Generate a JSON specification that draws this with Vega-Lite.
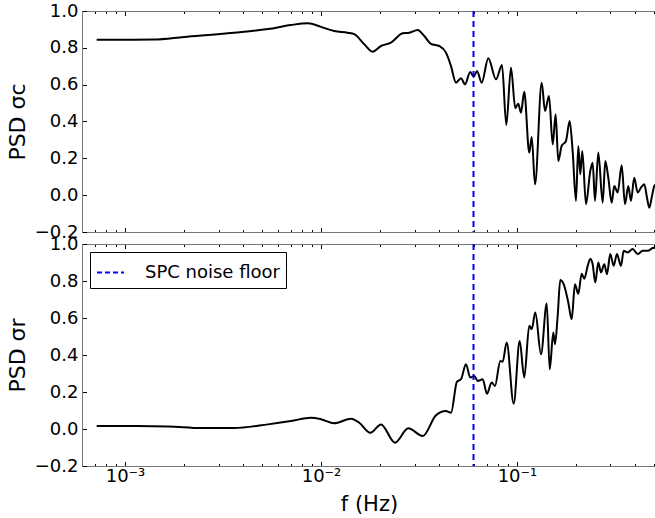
{
 "$schema": "https://vega.github.io/schema/vega-lite/v6.json",
 "padding": {"left": 6, "top": 2, "right": 0, "bottom": 2},
 "spacing": 12,
 "bounds": "flush",
 "config": {
  "view": {"stroke": null},
  "font": "DejaVu Sans",
  "axis": {"grid": false, "domainColor": "#777777", "domainWidth": 1, "tickColor": "black", "tickWidth": 1,
   "labelFont": "DejaVu Sans", "labelFontSize": 18, "labelColor": "black",
   "titleFont": "DejaVu Sans", "titleFontSize": 21, "titleFontWeight": "normal", "titleColor": "black",
   "labelOverlap": false, "labelFlush": false}
 },
 "resolve": {"scale": {"color": "independent"}, "legend": {"color": "independent"}},
 "datasets": {
  "sc": [
   {"f": 0.000717, "psd": 0.844}, {"f": 0.000954, "psd": 0.844}, {"f": 0.001406, "psd": 0.845},
   {"f": 0.002, "psd": 0.859}, {"f": 0.003598, "psd": 0.882}, {"f": 0.005365, "psd": 0.902},
   {"f": 0.00703, "psd": 0.924}, {"f": 0.008585, "psd": 0.933}, {"f": 0.01, "psd": 0.914},
   {"f": 0.01169, "psd": 0.891}, {"f": 0.01369, "psd": 0.882}, {"f": 0.01479, "psd": 0.874},
   {"f": 0.01663, "psd": 0.819}, {"f": 0.01836, "psd": 0.779}, {"f": 0.02024, "psd": 0.81},
   {"f": 0.02276, "psd": 0.828}, {"f": 0.02611, "psd": 0.879}, {"f": 0.02822, "psd": 0.882},
   {"f": 0.03114, "psd": 0.897}, {"f": 0.03365, "psd": 0.864}, {"f": 0.0364, "psd": 0.822},
   {"f": 0.04014, "psd": 0.81}, {"f": 0.04343, "psd": 0.774}, {"f": 0.04606, "psd": 0.701},
   {"f": 0.04884, "psd": 0.611}, {"f": 0.05179, "psd": 0.635}, {"f": 0.05428, "psd": 0.602},
   {"f": 0.05776, "psd": 0.669}, {"f": 0.06012, "psd": 0.642}, {"f": 0.06249, "psd": 0.674},
   {"f": 0.06605, "psd": 0.611}, {"f": 0.07138, "psd": 0.743}, {"f": 0.07812, "psd": 0.629},
   {"f": 0.08386, "psd": 0.707}, {"f": 0.0882, "psd": 0.381}, {"f": 0.0932, "psd": 0.692},
   {"f": 0.09801, "psd": 0.472}, {"f": 0.1015, "psd": 0.497}, {"f": 0.1048, "psd": 0.448},
   {"f": 0.1089, "psd": 0.562}, {"f": 0.1155, "psd": 0.231}, {"f": 0.1189, "psd": 0.316},
   {"f": 0.1236, "psd": 0.059}, {"f": 0.1337, "psd": 0.611}, {"f": 0.139, "psd": 0.457},
   {"f": 0.1457, "psd": 0.539}, {"f": 0.1521, "psd": 0.276}, {"f": 0.1575, "psd": 0.439},
   {"f": 0.1624, "psd": 0.186}, {"f": 0.169, "psd": 0.267}, {"f": 0.1778, "psd": 0.294},
   {"f": 0.1857, "psd": 0.403}, {"f": 0.1924, "psd": 0.236}, {"f": 0.2, "psd": -0.031},
   {"f": 0.2055, "psd": 0.267}, {"f": 0.2104, "psd": 0.113}, {"f": 0.2154, "psd": 0.24},
   {"f": 0.2249, "psd": -0.049}, {"f": 0.2366, "psd": 0.131}, {"f": 0.2433, "psd": 0.176},
   {"f": 0.25, "psd": -0.031}, {"f": 0.2599, "psd": 0.231}, {"f": 0.2737, "psd": -0.041},
   {"f": 0.2822, "psd": 0.186}, {"f": 0.2923, "psd": 0.095}, {"f": 0.3042, "psd": -0.041},
   {"f": 0.3136, "psd": 0.05}, {"f": 0.3264, "psd": 0.014}, {"f": 0.3421, "psd": 0.162},
   {"f": 0.3556, "psd": -0.049}, {"f": 0.3697, "psd": 0.05}, {"f": 0.3815, "psd": -0.031},
   {"f": 0.3966, "psd": 0.095}, {"f": 0.4127, "psd": 0.014}, {"f": 0.4291, "psd": 0.041},
   {"f": 0.4463, "psd": 0.059}, {"f": 0.4607, "psd": -0.014}, {"f": 0.4732, "psd": -0.068},
   {"f": 0.4885, "psd": -0.004}, {"f": 0.5018, "psd": 0.05}, {"f": 0.5119, "psd": 0.059}
  ],
  "sr": [
   {"f": 0.000717, "psd": 0.016}, {"f": 0.000954, "psd": 0.016}, {"f": 0.001657, "psd": 0.014},
   {"f": 0.002442, "psd": 0.005}, {"f": 0.003598, "psd": 0.005}, {"f": 0.005365, "psd": 0.025},
   {"f": 0.00703, "psd": 0.043}, {"f": 0.00889, "psd": 0.061}, {"f": 0.01, "psd": 0.053},
   {"f": 0.01169, "psd": 0.031}, {"f": 0.01423, "psd": 0.056}, {"f": 0.01568, "psd": 0.034},
   {"f": 0.01784, "psd": -0.02}, {"f": 0.02024, "psd": 0.025}, {"f": 0.02385, "psd": -0.074},
   {"f": 0.02789, "psd": 0.004}, {"f": 0.03303, "psd": -0.038}, {"f": 0.03862, "psd": 0.074},
   {"f": 0.04343, "psd": 0.097}, {"f": 0.04606, "psd": 0.088}, {"f": 0.04941, "psd": 0.256},
   {"f": 0.05179, "psd": 0.269}, {"f": 0.05492, "psd": 0.35}, {"f": 0.05776, "psd": 0.278},
   {"f": 0.06054, "psd": 0.287}, {"f": 0.06301, "psd": 0.26}, {"f": 0.06683, "psd": 0.269},
   {"f": 0.07029, "psd": 0.191}, {"f": 0.07428, "psd": 0.251}, {"f": 0.07722, "psd": 0.233},
   {"f": 0.0822, "psd": 0.368}, {"f": 0.08453, "psd": 0.364}, {"f": 0.0886, "psd": 0.467},
   {"f": 0.0962, "psd": 0.137}, {"f": 0.1032, "psd": 0.476}, {"f": 0.1089, "psd": 0.278},
   {"f": 0.1155, "psd": 0.558}, {"f": 0.1189, "psd": 0.54}, {"f": 0.124, "psd": 0.63},
   {"f": 0.1326, "psd": 0.404}, {"f": 0.1418, "psd": 0.678}, {"f": 0.1469, "psd": 0.323},
   {"f": 0.1532, "psd": 0.521}, {"f": 0.1563, "psd": 0.458}, {"f": 0.1613, "psd": 0.612},
   {"f": 0.1663, "psd": 0.805}, {"f": 0.1743, "psd": 0.774}, {"f": 0.1827, "psd": 0.684},
   {"f": 0.1901, "psd": 0.594}, {"f": 0.1976, "psd": 0.783}, {"f": 0.2055, "psd": 0.731},
   {"f": 0.2138, "psd": 0.839}, {"f": 0.2205, "psd": 0.812}, {"f": 0.2295, "psd": 0.882},
   {"f": 0.2366, "psd": 0.919}, {"f": 0.2433, "psd": 0.891}, {"f": 0.2509, "psd": 0.792},
   {"f": 0.2599, "psd": 0.9}, {"f": 0.2683, "psd": 0.846}, {"f": 0.2789, "psd": 0.891},
   {"f": 0.2878, "psd": 0.837}, {"f": 0.2992, "psd": 0.946}, {"f": 0.3114, "psd": 0.882},
   {"f": 0.3237, "psd": 0.946}, {"f": 0.3393, "psd": 0.882}, {"f": 0.3503, "psd": 0.963},
   {"f": 0.3671, "psd": 0.954}, {"f": 0.3894, "psd": 0.973}, {"f": 0.4127, "psd": 0.946},
   {"f": 0.4378, "psd": 0.963}, {"f": 0.4644, "psd": 0.963}, {"f": 0.4924, "psd": 0.978},
   {"f": 0.5119, "psd": 0.981}
  ],
  "floor": [{"f": 0.06, "label": "SPC noise floor"}]
 },
 "vconcat": [
  {
   "width": 574, "height": 221,
   "resolve": {"axis": {"x": "independent"}},
   "layer": [
    {
     "data": {"name": "sc"},
     "mark": {"type": "line", "color": "black", "strokeWidth": 2, "interpolate": "monotone", "clip": true},
     "encoding": {
      "x": {"field": "f", "type": "quantitative",
       "scale": {"type": "log", "domain": [0.0006035, 0.512], "nice": false},
       "axis": {"orient": "bottom", "title": null, "labels": false,
        "values": [0.0007,0.0008,0.0009,0.001,0.002,0.003,0.004,0.005,0.006,0.007,0.008,0.009,0.01,0.02,0.03,0.04,0.05,0.06,0.07,0.08,0.09,0.1,0.2,0.3,0.4,0.5],
        "tickSize": {"condition": {"test": "datum.value==0.001||datum.value==0.01||datum.value==0.1", "value": -4.5}, "value": -2.5}}},
      "y": {"field": "psd", "type": "quantitative",
       "scale": {"domain": [-0.2, 1.0], "nice": false, "zero": false},
       "axis": {"orient": "left", "values": [-0.2,0,0.2,0.4,0.6,0.8,1.0], "format": ".1f",
        "tickSize": -4.5, "labelPadding": 8.5, "title": "PSD σc", "titlePadding": 5, "titleFontSize": 22}}
     }
    },
    {
     "data": {"name": "floor"},
     "mark": {"type": "rule", "color": "#0000ff", "strokeWidth": 2, "strokeDash": [6, 4]},
     "encoding": {
      "x": {"field": "f", "type": "quantitative",
       "axis": {"orient": "top", "title": null, "labels": false,
        "values": [0.0007,0.0008,0.0009,0.001,0.002,0.003,0.004,0.005,0.006,0.007,0.008,0.009,0.01,0.02,0.03,0.04,0.05,0.06,0.07,0.08,0.09,0.1,0.2,0.3,0.4,0.5],
        "tickSize": {"condition": {"test": "datum.value==0.001||datum.value==0.01||datum.value==0.1", "value": -4.5}, "value": -2.5}}}
     }
    }
   ]
  },
  {
   "width": 574, "height": 222,
   "resolve": {"axis": {"x": "independent"}},
   "layer": [
    {
     "data": {"name": "sr"},
     "mark": {"type": "line", "color": "black", "strokeWidth": 2, "interpolate": "monotone", "clip": true},
     "encoding": {
      "x": {"field": "f", "type": "quantitative",
       "scale": {"type": "log", "domain": [0.0006035, 0.512], "nice": false},
       "axis": {"orient": "bottom", "title": "f (Hz)", "titlePadding": 6,
        "values": [0.0007,0.0008,0.0009,0.001,0.002,0.003,0.004,0.005,0.006,0.007,0.008,0.009,0.01,0.02,0.03,0.04,0.05,0.06,0.07,0.08,0.09,0.1,0.2,0.3,0.4,0.5],
        "labelExpr": "datum.value==0.001?'10⁻³':datum.value==0.01?'10⁻²':datum.value==0.1?'10⁻¹':''",
        "labelPadding": 6,
        "tickSize": {"condition": {"test": "datum.value==0.001||datum.value==0.01||datum.value==0.1", "value": -4.5}, "value": -2.5}}},
      "y": {"field": "psd", "type": "quantitative",
       "scale": {"domain": [-0.2, 1.0], "nice": false, "zero": false},
       "axis": {"orient": "left", "values": [-0.2,0,0.2,0.4,0.6,0.8,1.0], "format": ".1f",
        "tickSize": -4.5, "labelPadding": 8.5, "title": "PSD σr", "titlePadding": 5, "titleFontSize": 22}}
     }
    },
    {
     "data": {"name": "floor"},
     "mark": {"type": "rule", "strokeWidth": 2, "strokeDash": [6, 4]},
     "encoding": {
      "x": {"field": "f", "type": "quantitative",
       "axis": {"orient": "top", "title": null, "labels": false,
        "values": [0.0007,0.0008,0.0009,0.001,0.002,0.003,0.004,0.005,0.006,0.007,0.008,0.009,0.01,0.02,0.03,0.04,0.05,0.06,0.07,0.08,0.09,0.1,0.2,0.3,0.4,0.5],
        "tickSize": {"condition": {"test": "datum.value==0.001||datum.value==0.01||datum.value==0.1", "value": -4.5}, "value": -2.5}}},
      "color": {"field": "label", "type": "nominal", "scale": {"range": ["#0000ff"]},
       "legend": {"title": null, "orient": "top-left", "offset": 8, "symbolType": "stroke", "symbolStrokeWidth": 2,
        "symbolDash": [5, 3], "symbolSize": 729, "labelFontSize": 18, "labelFont": "DejaVu Sans", "labelColor": "black",
        "strokeColor": "black", "fillColor": "white", "padding": 6, "labelOffset": 20, "cornerRadius": 0}}
     }
    }
   ]
  }
 ]
}
